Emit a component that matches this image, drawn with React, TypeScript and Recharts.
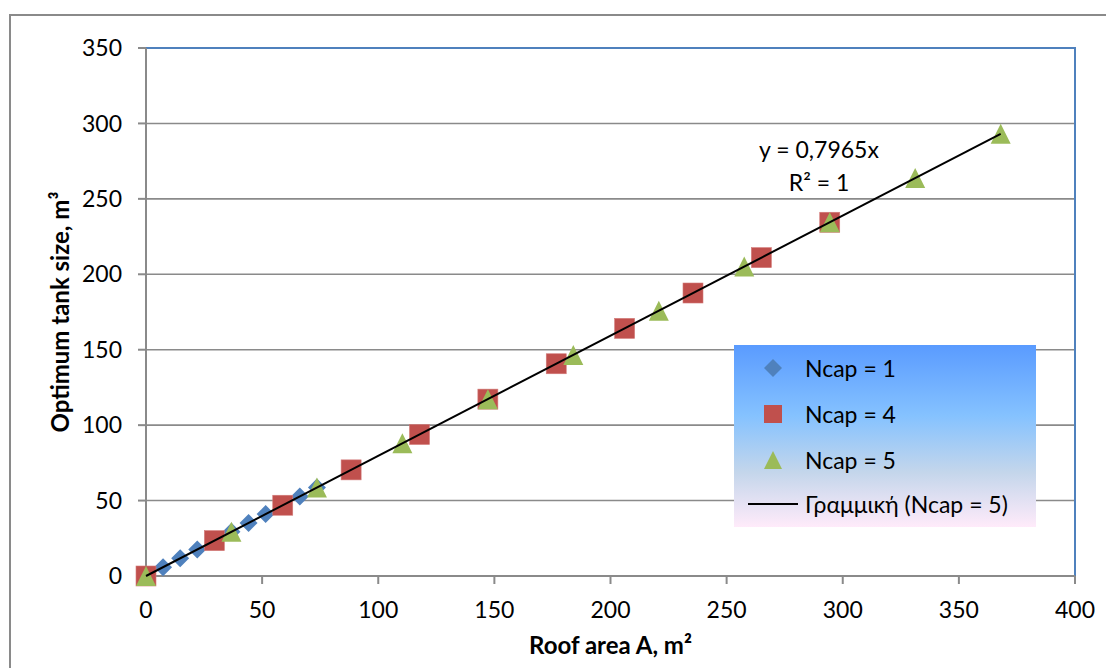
import React from 'react';
import {
  ScatterChart,
  Scatter,
  XAxis,
  YAxis,
  CartesianGrid,
  Legend,
  ReferenceArea,
} from 'recharts';

// Roof area A (m²) and optimum tank size (m³) per series
const ncap1X = [0, 7.36, 14.72, 22.08, 29.44, 36.8, 44.16, 51.52, 58.88, 66.24, 73.6];
const ncap1Y = [0, 5.86, 11.72, 17.59, 23.45, 29.31, 35.17, 41.04, 46.9, 52.76, 58.62];

const ncap4X = [0, 29.44, 58.88, 88.32, 117.76, 147.2, 176.64, 206.08, 235.52, 264.96, 294.4];
const ncap4Y = [0, 23.45, 46.9, 70.35, 93.8, 117.24, 140.69, 164.14, 187.59, 211.04, 234.49];

const ncap5X = [0, 36.8, 73.6, 110.4, 147.2, 184, 220.8, 257.6, 294.4, 331.2, 368];
const ncap5Y = [0, 29.31, 58.62, 87.93, 117.24, 146.56, 175.87, 205.18, 234.49, 263.8, 293.11];

const trendX = [0, 368];
const trendY = [0, 293.11];

const xTicks = [0, 50, 100, 150, 200, 250, 300, 350, 400];
const yTicks = [0, 50, 100, 150, 200, 250, 300, 350];

const seriesNames = ['Ncap = 1', 'Ncap = 4', 'Ncap = 5', 'Γραμμική (Ncap = 5)'];
const trendEquation = 'y = 0,7965x';
const trendR2 = 'R² = 1';

const zip = (xs: number[], ys: number[]) => xs.map((x, i) => ({ x, y: ys[i] }));

const BLUE = '#4F81BD';
const RED = '#C0504D';
const GREEN = '#9BBB59';
const GRID = '#8a8a8a';
const FONT = 'Lato, "Open Sans", sans-serif';

const Diamond = (p: any) => {
  const { cx, cy } = p;
  if (cx == null || cy == null) return <g />;
  const r = 9;
  return <path d={`M${cx},${cy - r}L${cx + r},${cy}L${cx},${cy + r}L${cx - r},${cy}Z`} fill={BLUE} />;
};

const Square = (p: any) => {
  const { cx, cy } = p;
  if (cx == null || cy == null) return <g />;
  const h = 10;
  return <rect x={cx - h} y={cy - h} width={2 * h} height={2 * h} fill={RED} stroke="#d27a78" strokeWidth={0.6} />;
};

const Triangle = (p: any) => {
  const { cx, cy } = p;
  if (cx == null || cy == null) return <g />;
  return <path d={`M${cx},${cy - 10}L${cx + 10},${cy + 10}L${cx - 10},${cy + 10}Z`} fill={GREEN} />;
};

const NoShape = () => <g />;

const legendMarker = (i: number) => {
  if (i === 0)
    return (
      <svg width={20} height={20} style={{ position: 'absolute', left: 29, top: -10 }}>
        <path d="M10,1L19,10L10,19L1,10Z" fill={BLUE} />
      </svg>
    );
  if (i === 1)
    return (
      <svg width={20} height={20} style={{ position: 'absolute', left: 29, top: -10 }}>
        <rect x={1} y={1} width={18} height={18} fill={RED} />
      </svg>
    );
  if (i === 2)
    return (
      <svg width={20} height={20} style={{ position: 'absolute', left: 29, top: -10 }}>
        <path d="M10,1L19,19L1,19Z" fill={GREEN} />
      </svg>
    );
  return (
    <svg width={52} height={4} style={{ position: 'absolute', left: 14, top: -2 }}>
      <line x1={0} y1={2} x2={50} y2={2} stroke="#000" strokeWidth={2} />
    </svg>
  );
};

const rowTops = [23, 69, 115, 159];

const LegendBox = () => (
  <div
    style={{
      position: 'relative',
      width: 302,
      height: 182,
      background: 'linear-gradient(to bottom, #5a9bff 0%, #85c2ff 39%, #c4d6eb 70%, #ffebfa 100%)',
      fontFamily: FONT,
      fontSize: 23,
      color: '#000',
    }}
  >
    {seriesNames.map((name, i) => (
      <div key={name} style={{ position: 'absolute', left: 0, top: rowTops[i], width: 302, height: 0 }}>
        {legendMarker(i)}
        <span style={{ position: 'absolute', left: 71, top: -15, whiteSpace: 'nowrap', lineHeight: '30px' }}>
          {name}
        </span>
      </div>
    ))}
  </div>
);

export default function App() {
  return (
    <div
      style={{
        position: 'absolute',
        left: 0,
        top: 0,
        width: 1106,
        height: 668,
        overflow: 'hidden',
        background: '#fff',
        fontFamily: FONT,
      }}
    >
      <div
        style={{
          position: 'absolute',
          left: 9,
          top: 14,
          width: 1300,
          height: 900,
          border: '2px solid #8a8a8a',
          boxSizing: 'border-box',
        }}
      />
      <div style={{ position: 'absolute', left: 0, top: 0 }}>
        <ScatterChart width={1106} height={668} margin={{ top: 48, right: 31, bottom: 0, left: 0 }}>
          <CartesianGrid vertical={false} horizontal stroke={GRID} strokeWidth={1.6} />
          <ReferenceArea
            x1={0}
            x2={400}
            y1={0}
            y2={350}
            fill="none"
            fillOpacity={0}
            stroke={BLUE}
            strokeWidth={2}
            ifOverflow="visible"
          />
          <XAxis
            type="number"
            dataKey="x"
            domain={[0, 400]}
            ticks={xTicks}
            interval={0}
            height={92}
            tickSize={8}
            tickMargin={18}
            axisLine={{ stroke: GRID, strokeWidth: 2 }}
            tickLine={{ stroke: GRID, strokeWidth: 2 }}
            tick={{ fill: '#000', fontSize: 23, fontFamily: FONT }}
            label={{
              content: (props: any) => {
                const vb = props.viewBox || { x: 146, width: 929 };
                return (
                  <text
                    x={vb.x + vb.width / 2}
                    y={654}
                    textAnchor="middle"
                    fontWeight="bold"
                    fontSize={24}
                    fontFamily={FONT}
                    fill="#000"
                  >
                    Roof area A, m²
                  </text>
                );
              },
            }}
          />
          <YAxis
            type="number"
            dataKey="y"
            domain={[0, 350]}
            ticks={yTicks}
            interval={0}
            width={146}
            tickSize={8}
            tickMargin={16}
            axisLine={{ stroke: GRID, strokeWidth: 2 }}
            tickLine={{ stroke: GRID, strokeWidth: 2 }}
            tick={{ fill: '#000', fontSize: 23, fontFamily: FONT }}
            label={{
              content: (props: any) => {
                const vb = props.viewBox || { y: 48, height: 528 };
                const cy = vb.y + vb.height / 2;
                return (
                  <text
                    x={69}
                    y={cy}
                    transform={`rotate(-90 69 ${cy})`}
                    textAnchor="middle"
                    fontWeight="bold"
                    fontSize={24}
                    fontFamily={FONT}
                    fill="#000"
                  >
                    Optimum tank size, m³
                  </text>
                );
              },
            }}
          />
          <Legend
            layout="vertical"
            align="center"
            verticalAlign="middle"
            wrapperStyle={{ left: 734, top: 345, width: 302, height: 182 }}
            content={() => <LegendBox />}
          />
          <Scatter name={seriesNames[0]} data={zip(ncap1X, ncap1Y)} shape={Diamond} isAnimationActive={false} />
          <Scatter name={seriesNames[1]} data={zip(ncap4X, ncap4Y)} shape={Square} isAnimationActive={false} />
          <Scatter name={seriesNames[2]} data={zip(ncap5X, ncap5Y)} shape={Triangle} isAnimationActive={false} />
          <Scatter
            name={seriesNames[3]}
            data={zip(trendX, trendY)}
            line={{ stroke: '#000', strokeWidth: 2 }}
            shape={NoShape}
            legendType="line"
            isAnimationActive={false}
          />
        </ScatterChart>
      </div>
      <div
        style={{
          position: 'absolute',
          left: 719,
          top: 133,
          width: 200,
          textAlign: 'center',
          fontSize: 23,
          lineHeight: '33px',
          color: '#000',
          fontFamily: FONT,
        }}
      >
        <div>{trendEquation}</div>
        <div>{trendR2}</div>
      </div>
    </div>
  );
}
